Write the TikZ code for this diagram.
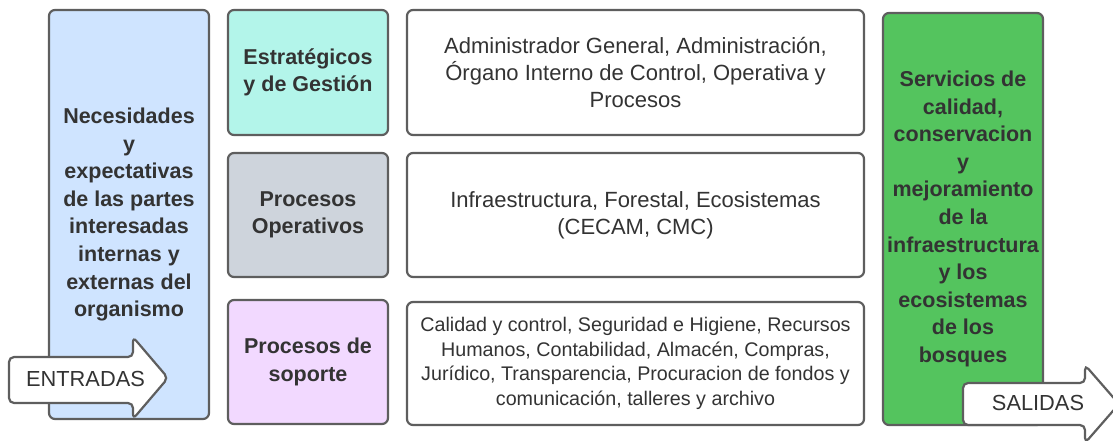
\documentclass[tikz,border=0pt]{standalone}
\usepackage{fontspec}
\setmainfont{Liberation Sans}
\usetikzlibrary{positioning}
\definecolor{edge}{HTML}{5E5E5E}
\definecolor{ink}{HTML}{333333}
\definecolor{cblue}{HTML}{CFE4FF}
\definecolor{cteal}{HTML}{B3F5EA}
\definecolor{cgray}{HTML}{CED4DC}
\definecolor{cpink}{HTML}{F2D9FF}
\definecolor{cgreen}{HTML}{54C45E}
\tikzset{
  card/.style={draw=edge, line width=2.2pt, rounded corners=6pt, text=ink, align=center, inner sep=0pt},
  boldtxt/.style={font=\fontsize{21.5}{27.6}\selectfont\bfseries},
  regtxt/.style={font=\fontsize{22}{27}\selectfont},
  smalltxt/.style={font=\fontsize{19.7}{24.5}\selectfont},
  arrowshape/.style={draw=edge, line width=2.2pt, fill=white, rounded corners=5pt},
  arrowtxt/.style={text=ink, font=\fontsize{21.8}{24}\selectfont, inner sep=0pt}
}
\begin{document}
\begin{tikzpicture}[x=1pt,y=-1pt]
\useasboundingbox (0,0) rectangle (1113,440);
% left input box
\node[card, fill=cblue, boldtxt, minimum width=160pt, minimum height=409pt] (in) at (129,214.5)
  {Necesidades\\y\\expectativas\\de las partes\\interesadas\\internas y\\externas del\\organismo};
% process labels
\node[card, fill=cteal, boldtxt, minimum width=160pt, minimum height=125pt] (strat) at (308,72.5)
  {Estratégicos\\y de Gestión};
\node[card, fill=cgray, boldtxt, minimum width=160pt, minimum height=124pt] (oper) at (308,215)
  {Procesos\\Operativos};
\node[card, fill=cpink, boldtxt, minimum width=160pt, minimum height=124pt] (sop) at (308,362)
  {Procesos de\\soporte};
% descriptions
\node[card, fill=white, regtxt, minimum width=457pt, minimum height=125pt] (stratd) at (635.5,72.5)
  {Administrador General, Administración,\\Órgano Interno de Control, Operativa y\\Procesos};
\node[card, fill=white, regtxt, minimum width=457pt, minimum height=124pt] (operd) at (635.5,215)
  {Infraestructura, Forestal, Ecosistemas\\(CECAM, CMC)};
\node[card, fill=white, smalltxt, minimum width=457pt, minimum height=123pt] (sopd) at (635.5,363.5)
  {Calidad y control, Seguridad e Higiene, Recursos\\Humanos, Contabilidad, Almacén, Compras,\\Jurídico, Transparencia, Procuracion de fondos y\\comunicación, talleres y archivo};
% output box
\node[card, fill=cgreen, boldtxt, minimum width=160pt, minimum height=412pt] (out) at (963,219)
  {Servicios de\\calidad,\\conservacion\\y\\mejoramiento\\de la\\infraestructura\\y los\\ecosistemas\\de los\\bosques};
% ENTRADAS arrow
\draw[arrowshape] (9,357) -- (133,357) -- (133,337) -- (168,378) -- (133,419) -- (133,403) -- (9,403) -- cycle;
\node[arrowtxt] (entr) at (85.5,379) {ENTRADAS};
% SALIDAS arrow
\draw[arrowshape] (963,383) -- (1085,383) -- (1085,365) -- (1119,404) -- (1085,443) -- (1085,425) -- (963,425) -- cycle;
\node[arrowtxt] (sal) at (1038,403) {SALIDAS};
\end{tikzpicture}
\end{document}
